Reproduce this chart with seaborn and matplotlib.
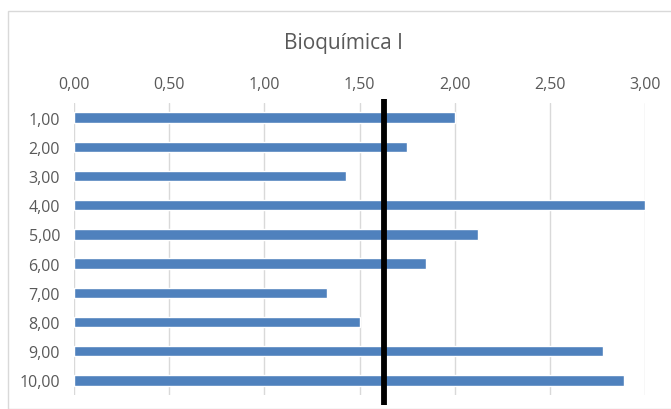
import pandas as pd
import matplotlib
matplotlib.use("Agg")
import matplotlib.pyplot as plt
import seaborn as sns
from matplotlib.patches import Rectangle

# data
categories = ["1,00", "2,00", "3,00", "4,00", "5,00", "6,00", "7,00", "8,00", "9,00", "10,00"]
values = [2.00, 1.75, 1.43, 3.00, 2.12, 1.85, 1.33, 1.50, 2.78, 2.89]
mean_line = 1.63
x_ticks = [0.0, 0.5, 1.0, 1.5, 2.0, 2.5, 3.0]
title = "Bioquímica I"

sns.set_theme(style="white")
plt.rcParams["font.family"] = ["Open Sans", "DejaVu Sans"]

df = pd.DataFrame({"cat": categories, "val": values})

fig = plt.figure(figsize=(6.71, 4.10), dpi=100)
ax = fig.add_axes([74 / 671, 1 - 396 / 410, 571 / 671, 292 / 410])

# chart border like the spreadsheet frame
fig.patches.append(Rectangle((8 / 671, 0), 1.0, 1 - 12 / 410, transform=fig.transFigure,
                             fill=False, edgecolor="#d9d9d9", linewidth=1.0))

sns.barplot(data=df, x="val", y="cat", orient="h", color="#4f81bd",
            saturation=1, width=0.36, ax=ax, zorder=2)

ax.set_xlim(0, 3.0)
ax.set_xticks(x_ticks)
ax.set_xticklabels([f"{t:.2f}".replace(".", ",") for t in x_ticks])
ax.xaxis.tick_top()
ax.grid(axis="x", color="#d9d9d9", linewidth=1.0, zorder=0)
ax.set_axisbelow(True)
for s in ax.spines.values():
    s.set_visible(False)
ax.tick_params(axis="both", length=0, labelsize=11.5, labelcolor="#595959")
ax.tick_params(axis="x", pad=8)
ax.tick_params(axis="y", pad=10)
ax.set_xlabel("")
ax.set_ylabel("")

# thick black reference line, sticking out a bit above and below the plot
ax.axvline(mean_line, ymin=-0.034, ymax=1.013, color="black", linewidth=4.2,
           solid_capstyle="butt", clip_on=False, zorder=5)

fig.text(344 / 671, 1 - 44 / 410, title, ha="center", va="center",
         fontsize=15, color="#595959")

fig.savefig("out.png", dpi=100)
